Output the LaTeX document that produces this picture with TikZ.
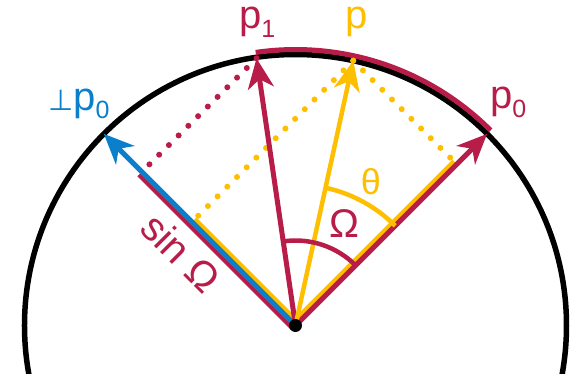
\documentclass[tikz,border=0pt]{standalone}
\usepackage{fontspec}
\setmainfont{Liberation Sans}
\newfontfamily\symfont{DejaVu Sans}
\usetikzlibrary{arrows.meta}
\definecolor{crim}{HTML}{B81C48}
\definecolor{gold}{HTML}{FDBF00}
\definecolor{sky}{HTML}{0A80CC}
\newcommand{\vsub}[1]{\raisebox{-9pt}{\fontsize{25}{25}\selectfont #1}}

\begin{document}
\begin{tikzpicture}[x=1pt,y=1pt,
    every node/.style={font=\fontsize{40}{42}\selectfont, inner sep=0pt},
    vec/.style={line width=5pt, -{Stealth[length=30pt,width=26pt,inset=9pt]}},
    seg/.style={line width=4.5pt},
    dots/.style={line width=6pt, line cap=round, dash pattern=on 0pt off 13.7pt}]
        \clip (-295.5,-47.5) rectangle (275.5,325.5);
        \coordinate (O) at (0,0);
        \coordinate (P0) at (45:271);
        \coordinate (Q0) at (135:271);
        \coordinate (P1) at (98.3:270);
        \coordinate (P) at (77.7:271);
        \coordinate (A) at (45:228.1);
        \coordinate (B) at (135:146.4);
        \coordinate (C) at (135:217.3);

        % unit circle and arc p0 -> p1
        \draw[line width=5.5pt] (O) circle[radius=271];
        \draw[crim, line width=5pt] (45:276) arc[start angle=45, end angle=98.3, radius=276];

        \draw[dots, crim] (P1) -- (C);
        \draw[dots, gold] (P) -- (A);
        \draw[dots, gold] (P) -- (B);

        \draw[seg, crim] ([shift={(225:4)}]O) -- ([shift={(225:4)}]C);
        \draw[seg, gold] ([shift={(45:4)}]O) -- ([shift={(45:4)}]B);
        \draw[seg, gold] ([shift={(135:4)}]O) -- ([shift={(135:4)}]A);

        \draw[vec, sky] (O) -- (Q0);
        \draw[vec, crim] (O) -- (P0);
        \draw[vec, crim] (O) -- (P1);
        \draw[vec, gold, line width=4.5pt] (O) -- (P);

        \draw[crim, line width=4.5pt] (45:85) arc[start angle=45, end angle=98.3, radius=85];
        \draw[gold, line width=4.5pt] (45:141) arc[start angle=45, end angle=77.7, radius=141];
        \fill (O) circle[radius=6.5];

        \node[text=crim, anchor=base west] (lp1) at (-56.5,297.5) {p\vsub{1}};
        \node[text=gold, anchor=base west] (lp) at (50,297.5) {p};
        \node[text=crim, anchor=base west] (lp0) at (194.5,217.5) {p\vsub{0}};
        \node[text=sky, anchor=base west] (lq0) at (-247.5,215.5) {{\symfont\fontsize{29}{29}\selectfont ⊥}p\vsub{0}};
        \node[text=crim] (lomega) at (48.5,101.5) {Ω};
        \node[text=gold, font=\fontsize{36}{38}\selectfont] (ltheta) at (75.3,144.2) {θ};
        \node[text=crim, rotate=-45] (lsin) at (-114.5,72.5) {sin Ω};
    \end{tikzpicture}
\end{document}
